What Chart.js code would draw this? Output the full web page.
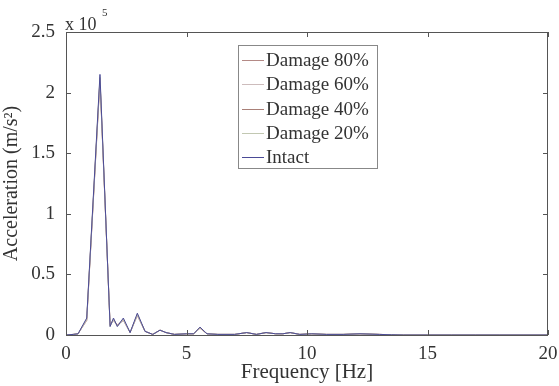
<!DOCTYPE html>
<html>
<head>
<meta charset="utf-8">
<script src="https://cdn.jsdelivr.net/npm/chart.js@4/dist/chart.umd.min.js"></script>
<style>
  html,body{margin:0;padding:0;background:#fff;}
  #wrap{width:559px;height:386px;}
</style>
</head>
<body>
<div id="wrap"><canvas id="chart" width="559" height="386"></canvas></div>
<script>
// frequency [Hz] and acceleration (x 10^5 m/s^2)
const freq    = [0, 0.3, 0.5, 0.86, 1.41, 1.83, 1.97, 2.13, 2.38, 2.66, 2.96, 3.28, 3.6, 3.9, 4.15, 4.5, 5.0, 5.3, 5.56, 5.85, 6.3, 7.0, 7.5, 7.9, 8.3, 8.7, 9.0, 9.3, 9.7, 10.2, 10.8, 11.5, 12.2, 13.0, 13.5, 14, 15, 16, 17, 18, 19, 20];
const intact  = [0, 0.005, 0.01, 0.14, 2.15, 0.07, 0.14, 0.07, 0.14, 0.02, 0.18, 0.03, 0.005, 0.04, 0.02, 0.005, 0.01, 0.01, 0.065, 0.01, 0.005, 0.005, 0.02, 0.005, 0.02, 0.01, 0.01, 0.02, 0.005, 0.01, 0.005, 0.005, 0.01, 0.005, 0.002, 0, 0, 0, 0, 0, 0, 0];
const dmg20   = [0, 0.005, 0.01, 0.13, 2.13, 0.07, 0.13, 0.07, 0.13, 0.02, 0.17, 0.03, 0.005, 0.04, 0.02, 0.005, 0.01, 0.01, 0.06, 0.01, 0.005, 0.005, 0.02, 0.005, 0.02, 0.01, 0.01, 0.02, 0.005, 0.01, 0.005, 0.005, 0.01, 0.005, 0.002, 0, 0, 0, 0, 0, 0, 0];
const dmg40   = [0, 0.005, 0.01, 0.13, 2.12, 0.08, 0.13, 0.08, 0.13, 0.02, 0.17, 0.03, 0.005, 0.04, 0.02, 0.005, 0.01, 0.01, 0.06, 0.01, 0.005, 0.005, 0.02, 0.005, 0.02, 0.01, 0.01, 0.02, 0.005, 0.01, 0.005, 0.005, 0.01, 0.005, 0.002, 0, 0, 0, 0, 0, 0, 0];
const dmg60   = [0, 0.005, 0.01, 0.12, 2.11, 0.08, 0.12, 0.08, 0.12, 0.02, 0.16, 0.03, 0.005, 0.04, 0.02, 0.005, 0.01, 0.01, 0.06, 0.01, 0.005, 0.005, 0.02, 0.005, 0.02, 0.01, 0.01, 0.02, 0.005, 0.01, 0.005, 0.005, 0.01, 0.005, 0.002, 0, 0, 0, 0, 0, 0, 0];
const dmg80   = [0, 0.005, 0.01, 0.12, 2.10, 0.08, 0.12, 0.08, 0.12, 0.02, 0.16, 0.03, 0.005, 0.04, 0.02, 0.005, 0.01, 0.01, 0.055, 0.01, 0.005, 0.005, 0.02, 0.005, 0.02, 0.01, 0.01, 0.02, 0.005, 0.01, 0.005, 0.005, 0.01, 0.005, 0.002, 0, 0, 0, 0, 0, 0, 0];
const labels  = ['Damage 80%', 'Damage 60%', 'Damage 40%', 'Damage 20%', 'Intact'];
const xTicks  = [0, 5, 10, 15, 20];
const yTicks  = [0, 0.5, 1, 1.5, 2, 2.5];

const COLORS = ['#b48a86', '#cdbcbc', '#a98078', '#c2c8b2', '#4a4a96'];
const FONT = '"Liberation Serif", "DejaVu Serif", serif';
const TXT = '#333';

const series = [dmg80, dmg60, dmg40, dmg20, intact];
const datasets = series.map((vals, i) => ({
  label: labels[i],
  data: freq.map((f, j) => ({x: f, y: vals[j]})),
  borderColor: COLORS[i],
  borderWidth: 1,
  pointRadius: 0,
  tension: 0,
  order: series.length - i
}));

// box, inward tick marks, exponent and legend like the MATLAB figure
const matlabLook = {
  id: 'matlabLook',
  afterDraw(c){
    const ctx = c.ctx, a = c.chartArea, xs = c.scales.x, ys = c.scales.y;
    ctx.save();
    ctx.strokeStyle = '#555'; ctx.lineWidth = 1;
    ctx.strokeRect(a.left + 0.5, a.top + 0.5, a.right - a.left - 1, a.bottom - a.top);
    ctx.beginPath();
    xTicks.forEach(v => {
      const px = Math.round(xs.getPixelForValue(v)) + 0.5;
      ctx.moveTo(px, a.bottom); ctx.lineTo(px, a.bottom - 5);
      ctx.moveTo(px, a.top); ctx.lineTo(px, a.top + 5);
    });
    yTicks.forEach(v => {
      const py = Math.round(ys.getPixelForValue(v)) + 0.5;
      ctx.moveTo(a.left, py); ctx.lineTo(a.left + 5, py);
      ctx.moveTo(a.right, py); ctx.lineTo(a.right - 5, py);
    });
    ctx.stroke();

    ctx.fillStyle = TXT;
    ctx.font = '18px ' + FONT;
    ctx.textBaseline = 'alphabetic'; ctx.textAlign = 'left';
    ctx.fillText('x 10', 65, 30);
    ctx.font = '11px ' + FONT;
    ctx.fillText('5', 102, 16);

    // legend
    const bx = 238, by = 45, bw = 139, bh = 123;
    ctx.fillStyle = '#fff';
    ctx.fillRect(bx, by, bw, bh);
    ctx.strokeStyle = '#888';
    ctx.strokeRect(bx + 0.5, by + 0.5, bw, bh);
    ctx.font = '19px ' + FONT;
    ctx.textBaseline = 'middle';
    labels.forEach((t, i) => {
      const y = 60 + i * 24.3;
      ctx.strokeStyle = COLORS[i]; ctx.lineWidth = 1;
      ctx.beginPath(); ctx.moveTo(242, Math.round(y) + 0.5); ctx.lineTo(264, Math.round(y) + 0.5); ctx.stroke();
      ctx.fillStyle = TXT;
      ctx.fillText(t, 266, y + 1);
    });
    ctx.restore();
  }
};

new Chart(document.getElementById('chart'), {
  type: 'line',
  data: { datasets },
  plugins: [matlabLook],
  options: {
    responsive: false,
    animation: false,
    layout: { padding: { top: 32, right: 11, left: 0, bottom: 0 } },
    plugins: { legend: { display: false }, tooltip: { enabled: false } },
    scales: {
      x: {
        type: 'linear', min: 0, max: 20,
        afterBuildTicks: s => { s.ticks = xTicks.map(v => ({value: v})); },
        afterFit: s => { s.height = 51; },
        grid: { display: false },
        border: { display: false },
        ticks: { color: TXT, font: { family: FONT, size: 19 }, padding: 0, maxRotation: 0 },
        title: { display: true, text: 'Frequency [Hz]', color: TXT, font: { family: FONT, size: 21 }, padding: { top: 0, bottom: 1 } }
      },
      y: {
        min: 0, max: 2.5,
        afterBuildTicks: s => { s.ticks = yTicks.map(v => ({value: v})); },
        afterFit: s => { s.width = 66; },
        grid: { display: false },
        border: { display: false },
        ticks: { color: TXT, font: { family: FONT, size: 19 }, padding: 3, callback: v => String(v) },
        title: { display: true, text: 'Acceleration (m/s²)', color: TXT, font: { family: FONT, size: 20 }, padding: { top: 0, bottom: 0 } }
      }
    }
  }
});
</script>
</body>
</html>
